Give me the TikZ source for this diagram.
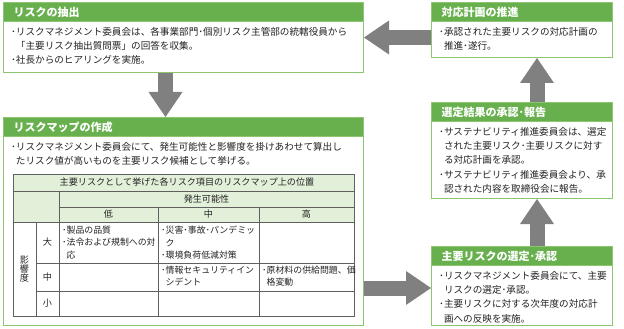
\documentclass[tikz,border=0pt]{standalone}
\usepackage{fontspec}
\setmainfont{Noto Sans CJK JP}
\usetikzlibrary{arrows.meta,calc}
\definecolor{hdrgreen}{RGB}{104,176,78}
\definecolor{boxgreen}{RGB}{140,198,112}
\definecolor{tblgreen}{RGB}{226,239,217}
\definecolor{tblline}{RGB}{95,95,95}
\definecolor{arrowgray}{RGB}{128,128,128}
\definecolor{txt}{RGB}{35,35,35}
\newcommand\ind{\hspace*{0.5em}}
\newcommand\dt{･}
\begin{document}
\begin{tikzpicture}[x=1pt,y=-1pt,
  box/.style={draw=boxgreen, line width=1pt, fill=white, anchor=north west, inner sep=0pt},
  hdr/.style={fill=hdrgreen, draw=boxgreen, line width=1pt, anchor=north west, inner ysep=0pt,
    inner xsep=10pt, minimum height=19pt, align=left, text=white,
    font=\fontsize{11}{13}\selectfont\bfseries},
  body/.style={anchor=north west, inner sep=0pt, align=left, text=txt,
    font=\fontsize{9.6}{14.3}\selectfont},
  cell/.style={anchor=north west, inner sep=0pt, align=left, text=txt,
    font=\fontsize{8.9}{12.3}\selectfont},
  th/.style={inner sep=0pt, text=txt, font=\fontsize{9.1}{10}\selectfont},
  grid/.style={draw=tblline, line width=0.7pt},
  fat/.style={arrowgray, line width=15pt, -{Triangle[width=34pt,length=25pt,line width=0pt]}}
]
\useasboundingbox (0,0) rectangle (624,329);

% box 1
\node[box, minimum width=360pt, minimum height=70pt] (b1) at (3,2) {};
\node[hdr, text width=340pt] (b1h) at (b1.north west) {リスクの抽出};
\node[body] (b1t) at ($(b1h.south west)+(8,5)$) {\dt リスクマネジメント委員会は、各事業部門\dt 個別リスク主管部の統轄役員から\\\ind「主要リスク抽出質問票」の回答を収集。\\\dt 社長からのヒアリングを実施。};

% box 2
\node[box, minimum width=181pt, minimum height=55pt] (b2) at (431,2) {};
\node[hdr, text width=161pt] (b2h) at (b2.north west) {対応計画の推進};
\node[body] (b2t) at ($(b2h.south west)+(8,5)$) {\dt 承認された主要リスクの対応計画の\\\ind 推進\dt 遂行。};

% box 3
\node[box, minimum width=181pt, minimum height=96pt] (b3) at (431,102) {};
\node[hdr, text width=161pt] (b3h) at (b3.north west) {選定結果の承認\dt 報告};
\node[body] (b3t) at ($(b3h.south west)+(8,5)$) {\dt サステナビリティ推進委員会は、選定\\\ind された主要リスク\dt 主要リスクに対す\\\ind る対応計画を承認。\\\dt サステナビリティ推進委員会より、承\\\ind 認された内容を取締役会に報告。};

% box 4
\node[box, minimum width=181pt, minimum height=79pt] (b4) at (431,246) {};
\node[hdr, text width=161pt] (b4h) at (b4.north west) {主要リスクの選定\dt 承認};
\node[body] (b4t) at ($(b4h.south west)+(8,5)$) {\dt リスクマネジメント委員会にて、主要\\\ind リスクの選定\dt 承認。\\\dt 主要リスクに対する次年度の対応計\\\ind 画への反映を実施。};

% box 5
\node[box, minimum width=360pt, minimum height=208pt] (b5) at (3,117) {};
\node[hdr, text width=340pt] (b5h) at (b5.north west) {リスクマップの作成};
\node[body] (b5t) at ($(b5h.south west)+(8,5)$) {\dt リスクマネジメント委員会にて、発生可能性と影響度を掛けあわせて算出し\\\ind たリスク値が高いものを主要リスク候補として挙げる。};

% table
\fill[tblgreen] (13,174) rectangle (354,207);
\fill[tblgreen] (13,207) rectangle (59,222);
\fill[tblgreen] (59,207) rectangle (354,222);
\draw[grid] (13,174) rectangle (354,316);
\draw[grid] (13,191) -- (354,191);
\draw[grid] (59,207) -- (354,207);
\draw[grid] (13,222) -- (354,222);
\draw[grid] (36,263) -- (354,263);
\draw[grid] (36,291) -- (354,291);
\draw[grid] (59,191) -- (59,316);
\draw[grid] (36,222) -- (36,316);
\draw[grid] (158,207) -- (158,316);
\draw[grid] (259,207) -- (259,316);

\node[th] (tt) at (187,182.5) {主要リスクとして挙げた各リスク項目のリスクマップ上の位置};
\node[th] (tp) at (206.5,199) {発生可能性};
\node[th] (tl) at (108.5,214.5) {低};
\node[th] (tm) at (208.5,214.5) {中};
\node[th] (th) at (306.5,214.5) {高};
\node[th, align=center, font=\fontsize{9.1}{9.3}\selectfont] (ti) at (24.5,269) {影\\響\\度};
\node[th] (r1) at (47.5,242.5) {大};
\node[th] (r2) at (47.5,277) {中};
\node[th] (r3) at (47.5,303.5) {小};

\node[cell] (c11) at (62,226) {\dt 製品の品質\\\dt 法令および規制への対\\\ind 応};
\node[cell] (c12) at (161,226) {\dt 災害\dt 事故\dt パンデミッ\\\ind ク\\\dt 環境負荷低減対策};
\node[cell] (c22) at (161,266) {\dt 情報セキュリティイン\\\ind シデント};
\node[cell] (c23) at (262,266) {\dt 原材料の供給問題、価\\\ind 格変動};

% arrows
\draw[fat] (b2.west |- 0,37.5) -- (b1.east |- 0,37.5);
\draw[fat] (b1.south -| 165.5,0) -- (b5.north -| 165.5,0);
\draw[fat] (b5.east |- 0,288) -- (b4.west |- 0,288);
\draw[fat] (b4.north -| 537,0) -- (b3.south -| 537,0);
\draw[fat] (b3.north -| 537,0) -- (b2.south -| 537,0);
\end{tikzpicture}
\end{document}
